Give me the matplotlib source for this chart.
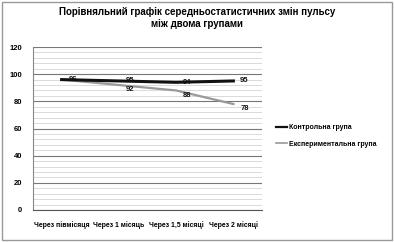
import matplotlib.pyplot as plt
from matplotlib.patches import Rectangle

categories = ['Через півмісяця', 'Через 1 місяць', 'Через 1,5 місяці', 'Через 2 місяці']
control = [96, 95, 94, 95]
experimental = [96, 92, 88, 78]
y_ticks = [0, 20, 40, 60, 80, 100, 120]

plt.rcParams['font.family'] = ['Liberation Sans', 'DejaVu Sans']

fig = plt.figure(figsize=(3.94, 2.42), dpi=100)
fig.patches.append(Rectangle((0.005, 0.01), 0.99, 0.98, transform=fig.transFigure,
                             fill=False, edgecolor='#999999', linewidth=1.0))

ax = fig.add_axes([33 / 394, 1 - 210 / 242, 229 / 394, 163 / 242])
x = range(len(categories))

ax.plot(x, control, color='#111111', linewidth=2.2, label='Контрольна група', zorder=3)
ax.plot(x, experimental, color='#999999', linewidth=1.6, label='Експериментальна група', zorder=2)

for i, v in enumerate(control):
    ax.text(i + 0.12, v, str(v), fontsize=5.5, fontweight='bold', va='center', ha='left', color='#111111')
for i, v in enumerate(experimental):
    if i == 0:
        continue
    ax.text(i + 0.12, v - 3.5, str(v), fontsize=5.5, fontweight='bold', va='center', ha='left', color='#111111')

ax.set_xlim(-0.5, len(categories) - 0.5)
ax.set_ylim(0, 120)
ax.set_yticks(y_ticks)
ax.set_yticks(range(0, 121, 4), minor=True)
ax.set_yticklabels([str(t) for t in y_ticks], fontsize=5.5, fontweight='bold')
ax.set_xticks(list(x))
ax.set_xticklabels(categories, fontsize=4.95, fontweight='bold')
ax.tick_params(axis='both', length=0, pad=8)
ax.tick_params(axis='y', which='minor', length=0)
ax.grid(axis='y', which='major', color='#777777', linewidth=0.8)
ax.grid(axis='y', which='minor', color='#cccccc', linewidth=0.5)
ax.set_axisbelow(True)
for s in ['top', 'right']:
    ax.spines[s].set_visible(False)
ax.spines['left'].set_color('#888888')
ax.spines['bottom'].set_color('#555555')

fig.text(0.5, 0.925, 'Порівняльний графік середньостатистичних змін пульсу\nміж двома групами',
         ha='center', va='center', fontsize=7, fontweight='bold', linespacing=1.2)

leg = fig.legend(loc='center left', bbox_to_anchor=(270 / 394, 1 - 136 / 242), frameon=False,
                 handlelength=1.6, handletextpad=0.3, labelspacing=1.4,
                 prop={'weight': 'bold', 'size': 5.0})
leg.get_lines()[0].set_linewidth(1.6)
leg.get_lines()[1].set_linewidth(1.2)

fig.savefig('out.png', dpi=100)
